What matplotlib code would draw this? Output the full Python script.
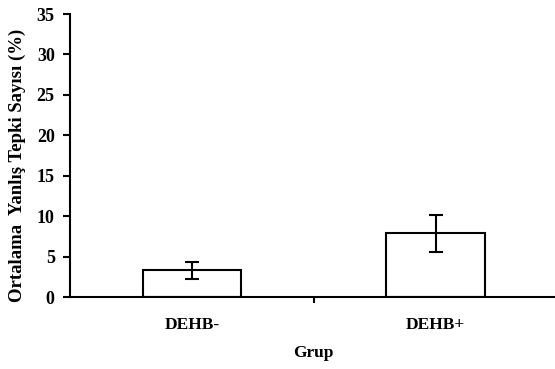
import matplotlib.pyplot as plt

# data
groups = ['DEHB-', 'DEHB+']
means = [3.3, 7.9]
errors = [1.05, 2.3]

plt.rcParams['font.family'] = ['Liberation Serif', 'DejaVu Serif']
plt.rcParams['font.weight'] = 'bold'

fig = plt.figure(figsize=(5.55, 3.69), dpi=100)
ax = fig.add_axes([70 / 555, 1 - 297 / 369, 1 - 70 / 555, (297 - 14) / 369])

pos = [0.5, 1.5]
ax.bar(pos, means, width=0.405, color='white', edgecolor='black', linewidth=1.5,
       yerr=errors, error_kw=dict(ecolor='black', elinewidth=1.5, capsize=5, capthick=1.5))

ax.set_xlim(0, 1.99)
ax.set_ylim(0, 35)
ax.set_yticks(range(0, 36, 5))
ax.set_xticks([1])
ax.set_xticklabels([''])
for p, g in zip(pos, groups):
    ax.text(p, -3.5, g, ha='center', va='center', fontsize=12.5, fontweight='bold')

ax.tick_params(axis='y', direction='out', length=5, width=1.5, labelsize=13, pad=6)
ax.tick_params(axis='x', direction='out', length=4, width=1.5)
for s in ['top', 'right']:
    ax.spines[s].set_visible(False)
for s in ['left', 'bottom']:
    ax.spines[s].set_linewidth(1.5)

fig.text(313 / 555, 1 - 353 / 369, 'Grup', ha='center', va='center', fontsize=12.5, fontweight='bold')
fig.text(17 / 555, 1 - 165 / 369, 'Ortalama  Yanlış Tepki Sayısı (%)', rotation=90,
         ha='center', va='center', fontsize=13.5, fontweight='bold')

fig.savefig('out.png', dpi=100)
